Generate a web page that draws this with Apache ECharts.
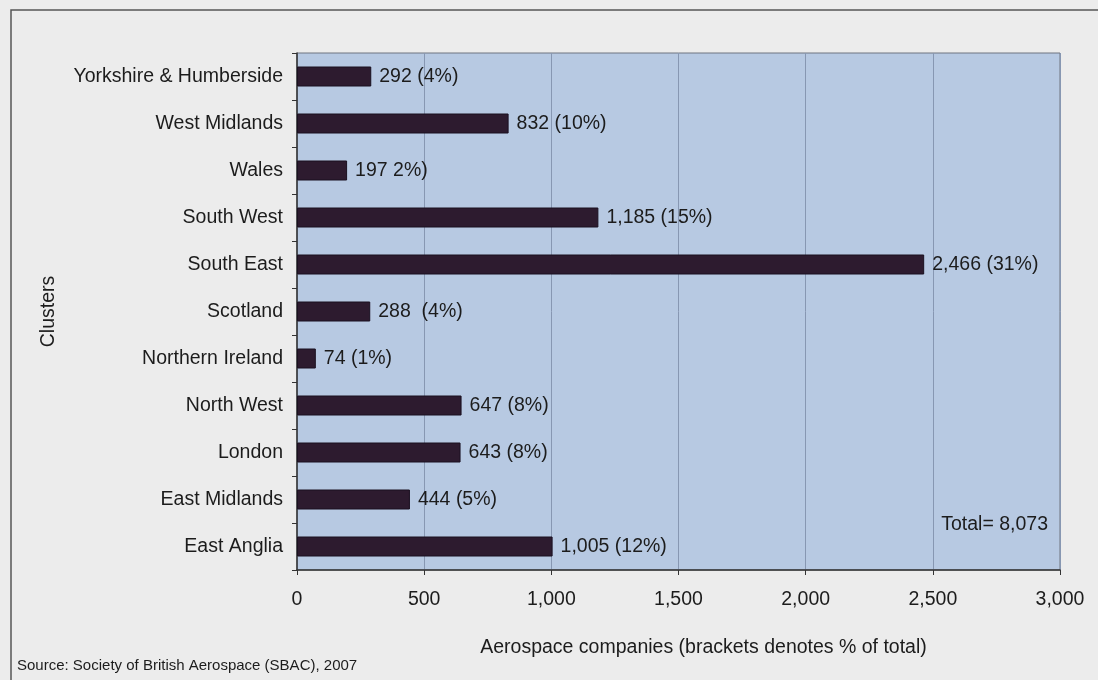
<!DOCTYPE html>
<html>
<head>
<meta charset="utf-8">
<script src="https://cdn.jsdelivr.net/npm/echarts@6/dist/echarts.min.js"></script>
<style>
  html, body { margin: 0; padding: 0; background: #ececec; }
  #chart { width: 1098px; height: 680px; }
</style>
</head>
<body>
<div id="chart"></div>
<script>
// Regional clusters, listed bottom to top as drawn on the category axis
const clusters = [
  'East Anglia', 'East Midlands', 'London', 'North West', 'Northern Ireland',
  'Scotland', 'South East', 'South West', 'Wales', 'West Midlands',
  'Yorkshire & Humberside'
];
// Number of aerospace companies per cluster
const companies = [1005, 444, 643, 647, 74, 288, 2466, 1185, 197, 832, 292];
// Share-of-total text printed after each count
const shares = ['(12%)', '(5%)', '(8%)', '(8%)', '(1%)', ' (4%)', '(31%)', '(15%)', '2%)', '(10%)', '(4%)'];
const totalCompanies = '8,073';
const xTicks = [0, 500, 1000, 1500, 2000, 2500, 3000];

const FONT = '"Liberation Sans", Arial, sans-serif';
const FS = 19.5;
const TEXT = '#1c1c1c';
const fmt = v => v.toLocaleString('en-GB');

const chart = echarts.init(document.getElementById('chart'));
chart.setOption({
  backgroundColor: '#ececec',
  animation: false,
  textStyle: { fontFamily: FONT, color: TEXT },
  grid: {
    left: 297, right: 38, top: 53, bottom: 110,
    show: true, backgroundColor: '#b7c9e2', borderColor: '#6f7480', borderWidth: 1
  },
  xAxis: {
    type: 'value',
    min: xTicks[0], max: xTicks[xTicks.length - 1], interval: 500,
    name: 'Aerospace companies (brackets denotes % of total)',
    nameLocation: 'middle', nameGap: 68,
    nameTextStyle: { fontSize: FS, color: TEXT, fontFamily: FONT, padding: [0, 0, 0, 50] },
    axisLine: { show: true, lineStyle: { color: '#333', width: 1.5 } },
    axisTick: { show: true, length: 5, lineStyle: { color: '#333' } },
    axisLabel: { fontSize: FS, color: TEXT, margin: 20, formatter: v => fmt(v) },
    splitLine: { show: true, lineStyle: { color: '#8797b2', width: 1 } }
  },
  yAxis: {
    type: 'category',
    data: clusters,
    name: 'Clusters',
    nameLocation: 'middle', nameGap: 238, nameRotate: 90,
    nameTextStyle: { fontSize: FS, color: TEXT, fontFamily: FONT },
    axisLine: { show: true, lineStyle: { color: '#333', width: 1.5 } },
    axisTick: { show: true, length: 5, inside: false, lineStyle: { color: '#333' } },
    axisLabel: { fontSize: FS, color: TEXT, margin: 14 }
  },
  series: [{
    type: 'bar',
    data: companies,
    barWidth: 20,
    itemStyle: { color: '#2d1b2f', borderColor: '#1a1020', borderWidth: 1 },
    label: {
      show: true, position: 'right', distance: 8,
      fontSize: FS, color: TEXT, fontFamily: FONT,
      formatter: p => fmt(p.value) + ' ' + shares[p.dataIndex]
    }
  }],
  graphic: [
    {
      type: 'rect', z: -1, silent: true,
      shape: { x: 11, y: 10, width: 1200, height: 800 },
      style: { fill: 'none', stroke: '#555', lineWidth: 1.5 }
    },
    {
      type: 'text', right: 50, top: 515,
      style: { text: 'Total= ' + totalCompanies, font: FS + 'px ' + FONT, fill: TEXT }
    },
    {
      type: 'text', left: 17, top: 658,
      style: { text: 'Source: Society of British Aerospace (SBAC), 2007', font: '15px ' + FONT, fill: TEXT }
    }
  ]
});
</script>
</body>
</html>
